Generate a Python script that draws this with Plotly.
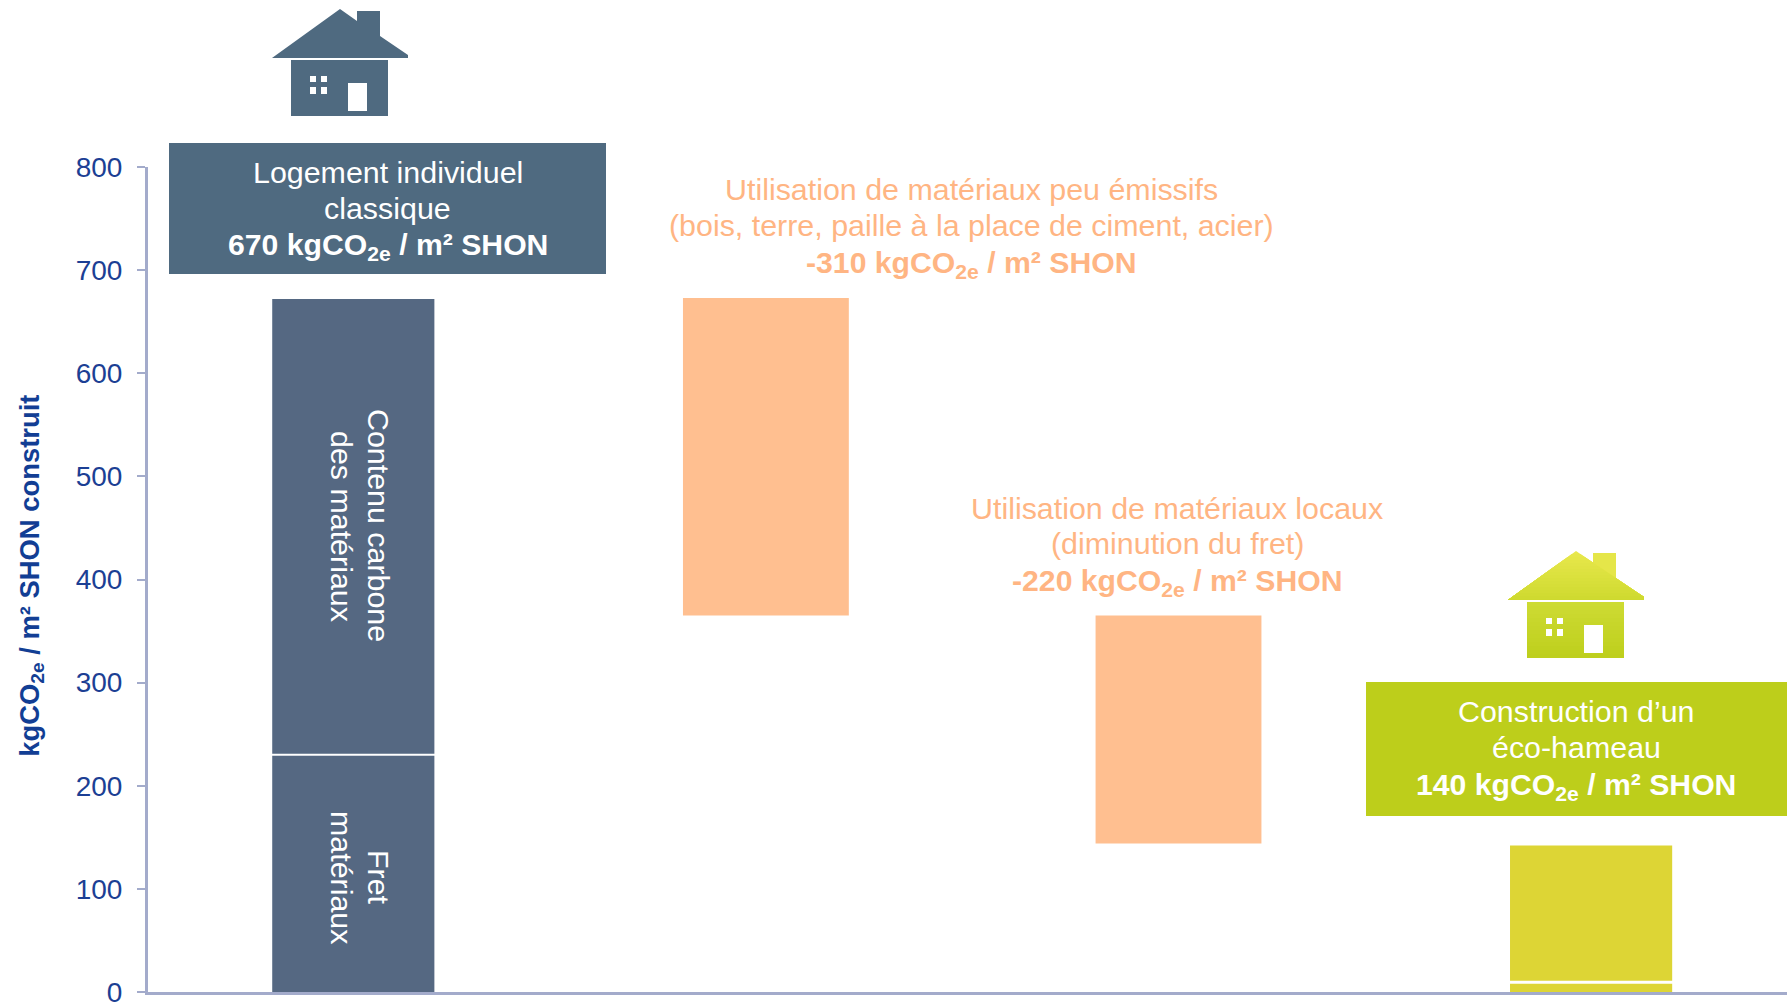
import plotly.graph_objects as go

W, H = 1787, 1005
L, R, T, B = 148, 0, 167, 13

categories = [0, 1, 2, 3]
seg_base = [0, 231, 365, 144, 0, 11]
seg_top = [229, 672, 673, 365, 8, 142]
seg_cat = [0, 0, 1, 2, 3, 3]
seg_color = ["#556882", "#556882", "#FFBF90", "#FFBF90", "#DDD535", "#DDD535"]
seg_width = [0.393, 0.393, 0.402, 0.402, 0.393, 0.393]
y_ticks = [0, 100, 200, 300, 400, 500, 600, 700, 800]
y_title = "\u00a0kgCO<sub>2e</sub> / m² SHON construit"

BLUE_BOX = "#4F6A80"
GREEN_BOX = "#BDCE1B"
ORANGE_TXT = "#FFB583"
AXIS = "#A3ABCB"
NAVY = "#1C3F94"
FONT = "Liberation Sans, Arial, sans-serif"
SIZE = 30.4
BOLD = 30.2


def px(x):
    return (x - L) / (W - L - R)


def py(y):
    return 1 - (y - T) / (H - T - B)


fig = go.Figure()
fig.add_trace(go.Bar(
    x=seg_cat,
    y=[t - b for t, b in zip(seg_top, seg_base)],
    base=seg_base,
    width=seg_width,
    marker=dict(color=seg_color, line=dict(width=0)),
    hoverinfo="skip",
    showlegend=False,
))

shapes = []


def rect(x0, y0, x1, y1, color):
    shapes.append(dict(type="rect", xref="paper", yref="paper", x0=px(x0), x1=px(x1),
                       y0=py(y0), y1=py(y1), fillcolor=color, line=dict(width=0), layer="above"))


def poly(points, color):
    path = "M " + " L ".join(f"{px(a):.5f},{py(b):.5f}" for a, b in points) + " Z"
    shapes.append(dict(type="path", xref="paper", yref="paper", path=path,
                       fillcolor=color, line=dict(width=0), layer="above"))


def mix(c0, c1, t):
    return "rgb(" + ",".join(str(round(a + (b - a) * t)) for a, b in zip(c0, c1)) + ")"


ROOF_TOP, ROOF_BOTTOM = (232, 232, 76), (205, 217, 46)
BODY_TOP, BODY_BOTTOM = (205, 219, 51), (189, 206, 27)


def windows_door(dx, dy):
    rect(348 + dx, 83 + dy, 367 + dx, 111 + dy, "white")
    for a, b in [(310, 316), (321, 327)]:
        for c, d in [(76, 82), (87, 94)]:
            rect(a + dx, c + dy, b + dx, d + dy, "white")


def solid_house(dx, dy, color):
    poly([(272 + dx, 58 + dy), (340 + dx, 9 + dy), (357 + dx, 21 + dy), (357 + dx, 11 + dy),
          (380 + dx, 11 + dy), (380 + dx, 36 + dy), (408 + dx, 55 + dy), (408 + dx, 58 + dy)], color)
    rect(291 + dx, 60 + dy, 388 + dx, 116 + dy, color)
    windows_door(dx, dy)


def gradient_house(dx, dy):
    rect(357 + dx, 11 + dy, 380 + dx, 36 + dy, mix(ROOF_TOP, ROOF_BOTTOM, 0.1))
    for y in range(9, 58, 3):
        t = (y - 9) / 49
        left = 340 - (y - 9) / 0.72
        right = 340 + min(y - 9, 46) / 0.69
        poly([(left + dx, y + dy), (right + dx, y + dy), (408 + dx, 55 + dy), (408 + dx, 58 + dy),
              (272 + dx, 58 + dy)], mix(ROOF_TOP, ROOF_BOTTOM, t))
    for y in range(60, 116, 4):
        rect(291 + dx, y + dy, 388 + dx, 116 + dy, mix(BODY_TOP, BODY_BOTTOM, (y - 60) / 56))
    windows_door(dx, dy)


rect(169, 143, 606, 274, BLUE_BOX)
rect(1366, 682, W, 816, GREEN_BOX)
solid_house(0, 0, BLUE_BOX)
gradient_house(1236, 542)

annotations = []


def label(x, y, text, color, bold=False, angle=0):
    annotations.append(dict(
        xref="paper", yref="paper", x=px(x), y=py(y), xanchor="center", yanchor="middle",
        text=f"<b>{text}</b>" if bold else text, showarrow=False, textangle=angle,
        font=dict(family=FONT, size=BOLD if bold else SIZE, color=color), align="center",
    ))


UNIT = "kgCO<sub>2e</sub> / m² SHON"
label(387.5, 172, "Logement individuel", "white")
label(387.5, 208, "classique", "white")
label(387.5, 247, "670 " + UNIT, "white", True)
label(972, 189, "Utilisation de matériaux peu émissifs", ORANGE_TXT)
label(972, 225, "(bois, terre, paille à la place de ciment, acier)", ORANGE_TXT)
label(972, 264, "-310 " + UNIT, ORANGE_TXT, True)
label(1177, 508, "Utilisation de matériaux locaux", ORANGE_TXT)
label(1177, 543, "(diminution du fret)", ORANGE_TXT)
label(1177, 582, "-220 " + UNIT, ORANGE_TXT, True)
label(1576, 711, "Construction d’un", "white")
label(1576, 747, "éco-hameau", "white")
label(1576, 786, "140 " + UNIT, "white", True)
label(379, 525, "Contenu carbone", "white", angle=90)
label(342, 526, "des matériaux", "white", angle=90)
label(379, 877, "Fret", "white", angle=90)
label(342, 877, "matériaux", "white", angle=90)

fig.update_layout(
    width=W, height=H, autosize=False,
    margin=dict(l=L, r=R, t=T, b=B),
    paper_bgcolor="white", plot_bgcolor="white",
    shapes=shapes, annotations=annotations,
    xaxis=dict(range=[-0.5 + 1 / 412.6, -0.5 + 1 / 412.6 + (W - L - R) / 412.6], showticklabels=False, ticks="",
               showgrid=False, zeroline=False, showline=True, linecolor=AXIS, linewidth=3, fixedrange=True,
               automargin=False),
    yaxis=dict(range=[0, 800], tickmode="array", tickvals=y_ticks, ticktext=[str(v) for v in y_ticks],
               ticks="outside", ticklen=8, tickwidth=2, tickcolor=AXIS, showgrid=False, zeroline=False,
               showline=True, linecolor=AXIS, linewidth=3, ticklabelstandoff=9, ticklabeloverflow="allow",
               automargin=False,
               tickfont=dict(family=FONT, size=28, color=NAVY), fixedrange=True,
               title=dict(text=f"<b>{y_title}</b>", font=dict(family=FONT, size=27.4, color="#123E94"), standoff=29)),
    font=dict(family=FONT),
)
fig.write_html("out.html", config=dict(displayModeBar=False),
               post_script="document.body.style.margin='0';document.body.style.overflow='hidden';")
